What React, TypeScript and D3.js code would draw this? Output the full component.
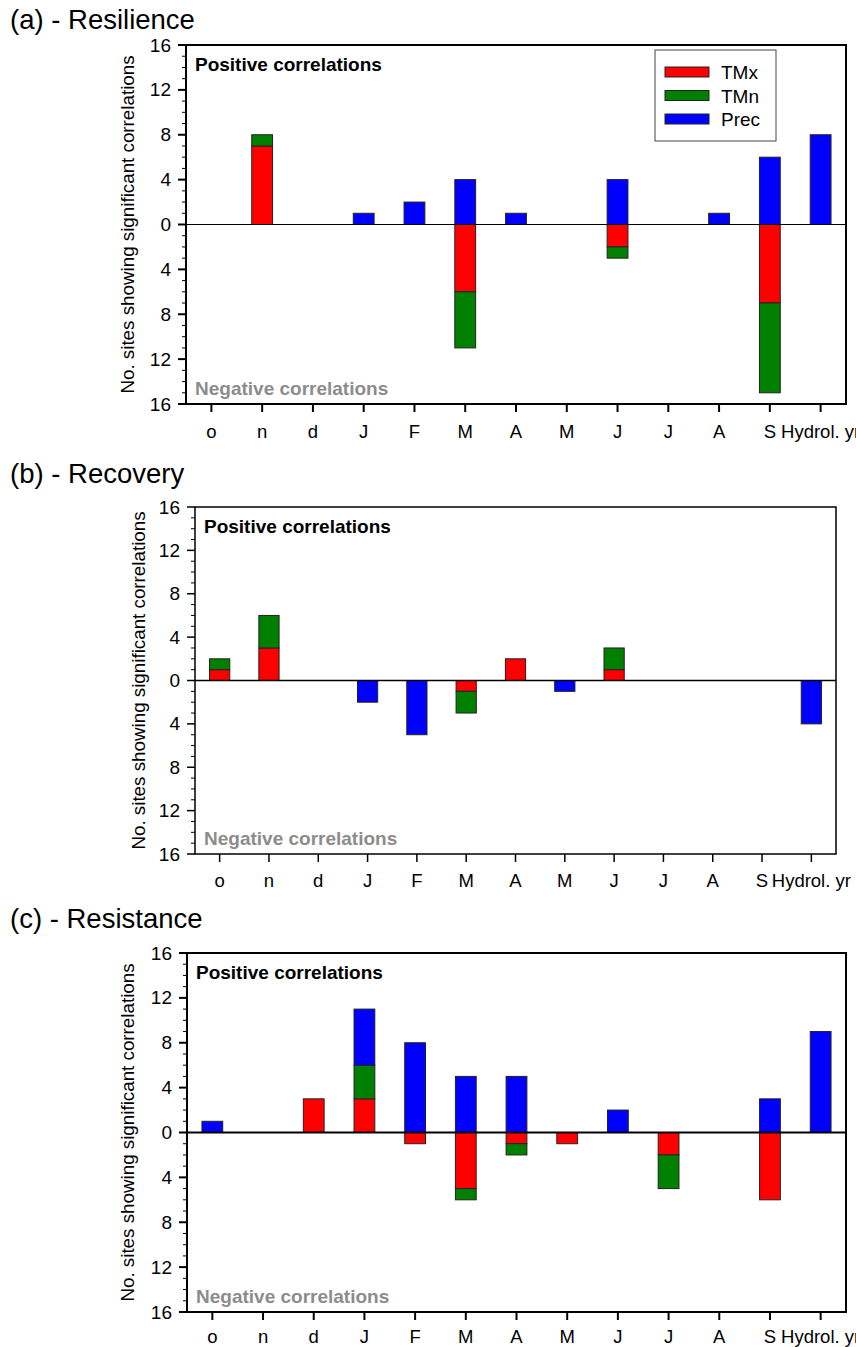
import React from "react";
import * as d3 from "d3";

const categories = ["o", "n", "d", "J", "F", "M", "A", "M", "J", "J", "A", "S", "Hydrol. yr"];
const seriesNames = ["TMx", "TMn", "Prec"];
const seriesColors = ["#ff0000", "#008000", "#0000ff"];
const yTickValues = [-16, -12, -8, -4, 0, 4, 8, 12, 16];

// (a) Resilience
const resPosTMx = [0, 7, 0, 0, 0, 0, 0, 0, 0, 0, 0, 0, 0];
const resPosTMn = [0, 1, 0, 0, 0, 0, 0, 0, 0, 0, 0, 0, 0];
const resPosPrec = [0, 0, 0, 1, 2, 4, 1, 0, 4, 0, 1, 6, 8];
const resNegTMx = [0, 0, 0, 0, 0, 6, 0, 0, 2, 0, 0, 7, 0];
const resNegTMn = [0, 0, 0, 0, 0, 5, 0, 0, 1, 0, 0, 8, 0];
const resNegPrec = [0, 0, 0, 0, 0, 0, 0, 0, 0, 0, 0, 0, 0];

// (b) Recovery
const recPosTMx = [1, 3, 0, 0, 0, 0, 2, 0, 1, 0, 0, 0, 0];
const recPosTMn = [1, 3, 0, 0, 0, 0, 0, 0, 2, 0, 0, 0, 0];
const recPosPrec = [0, 0, 0, 0, 0, 0, 0, 0, 0, 0, 0, 0, 0];
const recNegTMx = [0, 0, 0, 0, 0, 1, 0, 0, 0, 0, 0, 0, 0];
const recNegTMn = [0, 0, 0, 0, 0, 2, 0, 0, 0, 0, 0, 0, 0];
const recNegPrec = [0, 0, 0, 2, 5, 0, 0, 1, 0, 0, 0, 0, 4];

// (c) Resistance
const rstPosTMx = [0, 0, 3, 3, 0, 0, 0, 0, 0, 0, 0, 0, 0];
const rstPosTMn = [0, 0, 0, 3, 0, 0, 0, 0, 0, 0, 0, 0, 0];
const rstPosPrec = [1, 0, 0, 5, 8, 5, 5, 0, 2, 0, 0, 3, 9];
const rstNegTMx = [0, 0, 0, 0, 1, 5, 1, 1, 0, 2, 0, 6, 0];
const rstNegTMn = [0, 0, 0, 0, 0, 1, 1, 0, 0, 3, 0, 0, 0];
const rstNegPrec = [0, 0, 0, 0, 0, 0, 0, 0, 0, 0, 0, 0, 0];

const FONT = "'Liberation Sans', Arial, Helvetica, sans-serif";

type PanelProps = {
  title: string;
  titleY: number;
  left: number;
  right: number;
  top: number;
  bottom: number;
  ylabelX: number;
  frameW: number;
  zeroW: number;
  xLabelGap: number;
  pos: number[][];
  neg: number[][];
  legend?: boolean;
};

function Panel(p: PanelProps) {
  const x = d3.scaleBand<string>().domain(categories.map((_, i) => String(i))).range([p.left, p.right]).padding(0);
  const y = d3.scaleLinear().domain([-16, 16]).range([p.bottom, p.top]);
  const bw = x.bandwidth() * 0.41;
  const minor = d3.range(-16, 17, 1).filter((v) => v % 4 !== 0);

  const rects: React.ReactNode[] = [];
  categories.forEach((_, i) => {
    const cx = (x(String(i)) as number) + x.bandwidth() / 2;
    let acc = 0;
    p.pos.forEach((s, k) => {
      const v = s[i];
      if (v > 0) {
        rects.push(
          <rect key={`p${i}-${k}`} x={cx - bw / 2} y={y(acc + v)} width={bw} height={y(acc) - y(acc + v)}
            fill={seriesColors[k]} stroke="#222" strokeWidth={1} />
        );
        acc += v;
      }
    });
    acc = 0;
    p.neg.forEach((s, k) => {
      const v = s[i];
      if (v > 0) {
        rects.push(
          <rect key={`n${i}-${k}`} x={cx - bw / 2} y={y(-acc)} width={bw} height={y(-acc - v) - y(-acc)}
            fill={seriesColors[k]} stroke="#222" strokeWidth={1} />
        );
        acc += v;
      }
    });
  });

  const ymid = (p.top + p.bottom) / 2;
  return (
    <g>
      <text x={10} y={p.titleY} fontSize={27.5} fontFamily={FONT} fill="#000">{p.title}</text>
      {rects}
      <line x1={p.left} x2={p.right} y1={y(0)} y2={y(0)} stroke="#000" strokeWidth={p.zeroW} />
      <rect x={p.left} y={p.top} width={p.right - p.left} height={p.bottom - p.top} fill="none" stroke="#000" strokeWidth={p.frameW} />
      {yTickValues.map((v) => (
        <g key={`yt${v}`}>
          <line x1={p.left - 8} x2={p.left} y1={y(v)} y2={y(v)} stroke="#000" strokeWidth={p.frameW} />
          <text x={p.left - 15} y={y(v) + 6.5} fontSize={19} textAnchor="end" fontFamily={FONT}>{Math.abs(v)}</text>
        </g>
      ))}
      {minor.map((v) => (
        <line key={`ym${v}`} x1={p.left - 4} x2={p.left} y1={y(v)} y2={y(v)} stroke="#000" strokeWidth={1} />
      ))}
      {categories.map((c, i) => {
        const cx = (x(String(i)) as number) + x.bandwidth() / 2;
        return (
          <g key={`xt${i}`}>
            <line x1={cx} x2={cx} y1={p.bottom} y2={p.bottom + 8} stroke="#000" strokeWidth={p.frameW} />
            <text x={cx} y={p.bottom + p.xLabelGap} fontSize={18.5} textAnchor="middle" fontFamily={FONT}>{c}</text>
          </g>
        );
      })}
      <text transform={`translate(${p.ylabelX},${ymid}) rotate(-90)`} fontSize={18.8} textAnchor="middle"
        dominantBaseline="middle" fontFamily={FONT}>No. sites showing significant correlations</text>
      <text x={p.left + 9} y={p.top + 26} fontSize={19} fontWeight="bold" fontFamily={FONT}>Positive correlations</text>
      <text x={p.left + 9} y={p.bottom - 9} fontSize={19} fontWeight="bold" fill="#8c8c8c" fontFamily={FONT}>Negative correlations</text>
      {p.legend && (
        <g>
          <rect x={655} y={50} width={121} height={91} fill="#fff" stroke="#444" strokeWidth={1} />
          {seriesNames.map((n, k) => (
            <g key={n}>
              <rect x={665} y={67 + k * 23.5} width={44} height={10} fill={seriesColors[k]} stroke="#222" strokeWidth={1} />
              <text x={721} y={79 + k * 23.5} fontSize={19} fontFamily={FONT}>{n}</text>
            </g>
          ))}
        </g>
      )}
    </g>
  );
}

export default function App() {
  return (
    <svg width={856} height={1347} style={{ position: "absolute", left: 0, top: 0, background: "#fff" }}>
      <rect x={0} y={0} width={856} height={1347} fill="#fff" />
      <Panel title="(a) - Resilience" titleY={29} left={186} right={846} top={45} bottom={404} ylabelX={129}
        frameW={2} zeroW={1} xLabelGap={34} pos={[resPosTMx, resPosTMn, resPosPrec]} neg={[resNegTMx, resNegTMn, resNegPrec]} legend />
      <Panel title="(b) - Recovery" titleY={483} left={195} right={836} top={507} bottom={854} ylabelX={140}
        frameW={1.5} zeroW={1.5} xLabelGap={33} pos={[recPosTMx, recPosTMn, recPosPrec]} neg={[recNegTMx, recNegTMn, recNegPrec]} />
      <Panel title="(c) - Resistance" titleY={928} left={187} right={846} top={953} bottom={1312} ylabelX={129}
        frameW={2} zeroW={2} xLabelGap={31} pos={[rstPosTMx, rstPosTMn, rstPosPrec]} neg={[rstNegTMx, rstNegTMn, rstNegPrec]} />
    </svg>
  );
}
